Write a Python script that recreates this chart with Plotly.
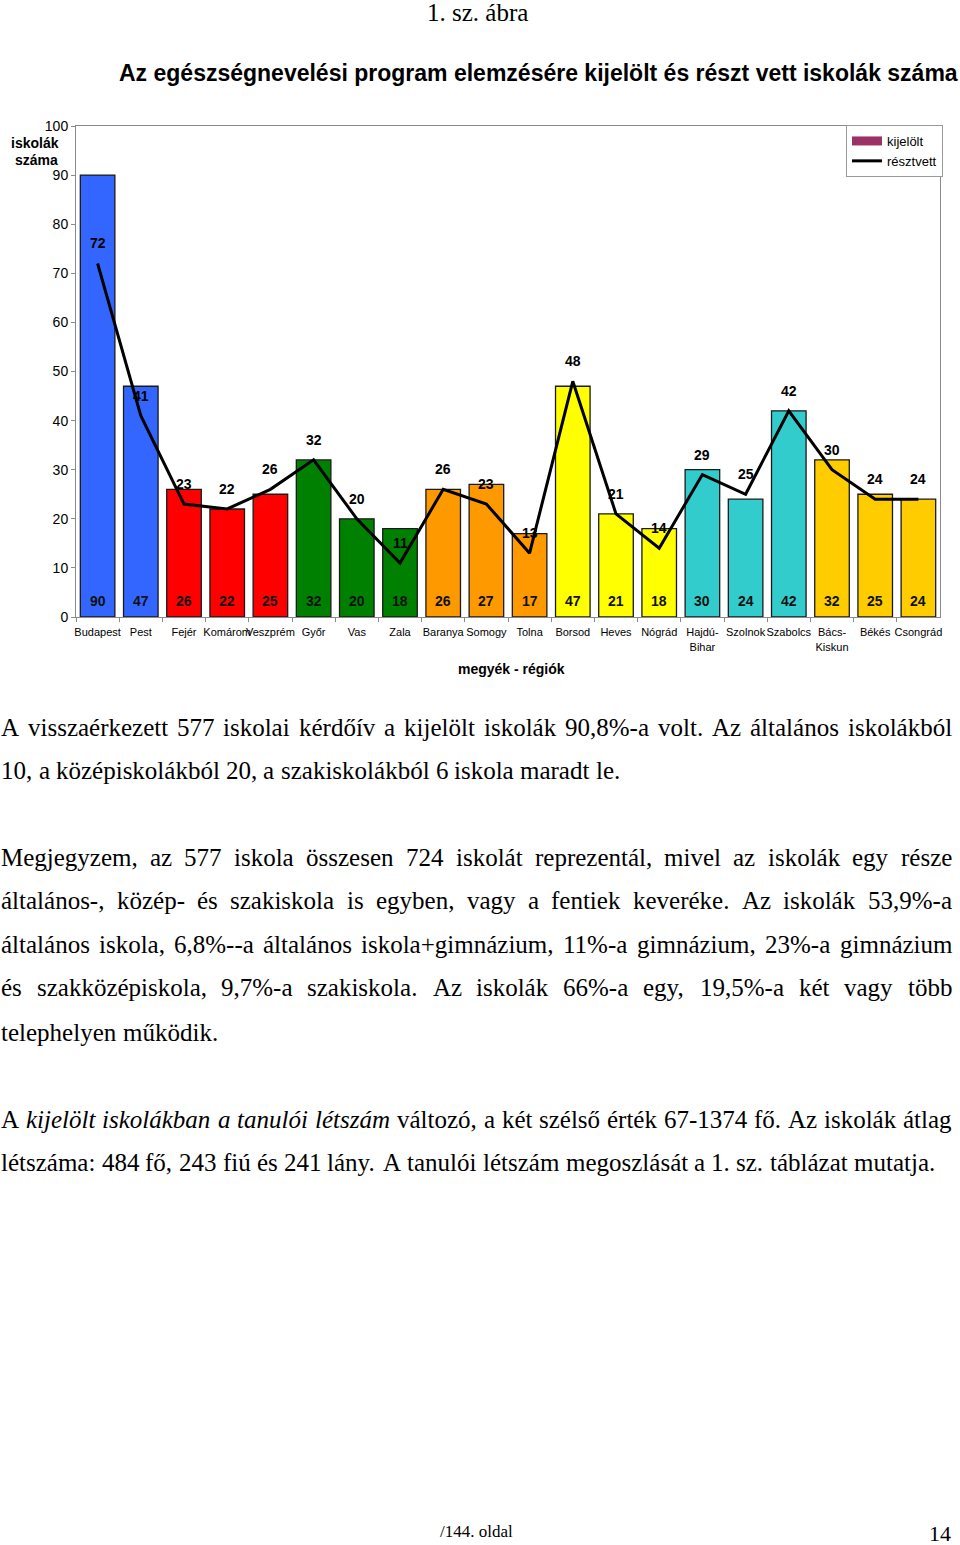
import plotly.graph_objects as go

# ---------------- data ----------------
categories = ["Budapest", "Pest", "Fejér", "Komárom", "Veszprém", "Győr", "Vas", "Zala",
              "Baranya", "Somogy", "Tolna", "Borsod", "Heves", "Nógrád", "Hajdú-<br>Bihar",
              "Szolnok", "Szabolcs", "Bács-<br>Kiskun", "Békés", "Csongrád"]
kijelolt = [90, 47, 26, 22, 25, 32, 20, 18, 26, 27, 17, 47, 21, 18, 30, 24, 42, 32, 25, 24]
resztvett = [72, 41, 23, 22, 26, 32, 20, 11, 26, 23, 13, 48, 21, 14, 29, 25, 42, 30, 24, 24]
y_tick_values = [0, 10, 20, 30, 40, 50, 60, 70, 80, 90, 100]

# ---------------- styles ----------------
bar_colors = (["#3366FF"] * 2 + ["#FF0000"] * 3 + ["#008000"] * 3 + ["#FF9900"] * 3 +
              ["#FFFF00"] * 3 + ["#33CCCC"] * 3 + ["#FFCC00"] * 3)

W, H = 960, 1545
PL, PR, PT, PB = 76, 940, 126, 617


def px(x):
    return x / W


def py(y):
    return 1 - y / H


SANS = "Liberation Sans, Arial, sans-serif"
SERIF = "Liberation Serif, Times New Roman, serif"

fig = go.Figure()
fig.add_trace(go.Bar(
    x=categories, y=kijelolt, name="kijelölt", showlegend=False,
    marker=dict(color=bar_colors, line=dict(color="#1a1a1a", width=1.3)),
    width=0.8,
))
# legend entry for the bars (wide swatch like the original)
fig.add_trace(go.Scatter(x=[None], y=[None], name="kijelölt", mode="lines",
                         line=dict(color="#993366", width=9)))
fig.add_trace(go.Scatter(x=categories, y=resztvett, name="résztvett", mode="lines",
                         line=dict(color="black", width=3)))


def txt(x, y, text, family, size, xanchor="center", color="black"):
    return dict(x=px(x), y=py(y), xref="paper", yref="paper", text=text, showarrow=False,
                xanchor=xanchor, yanchor="middle", borderpad=0, borderwidth=0,
                font=dict(family=family, size=size, color=color))


ann = []
# value labels
for c, v in zip(categories, resztvett):
    ann.append(dict(x=c, y=v, xref="x", yref="y", text=f"<b>{v}</b>", showarrow=False,
                    yshift=20, xanchor="center", yanchor="middle",
                    font=dict(family=SANS, size=14, color="black")))
for c, v in zip(categories, kijelolt):
    ann.append(dict(x=c, y=0, xref="x", yref="y", text=f"<b>{v}</b>", showarrow=False,
                    yshift=16, xanchor="center", yanchor="middle",
                    font=dict(family=SANS, size=14, color="#111111")))

# chart texts
ann.append(txt(35, 143, "<b>iskolák</b>", SANS, 14))
ann.append(txt(36, 160, "<b>száma</b>", SANS, 14))
ann.append(txt(511, 669, "<b>megyék - régiók</b>", SANS, 14))
ann.append(txt(538, 73, "<b>Az egészségnevelési program elemzésére kijelölt és részt vett iskolák száma</b>",
               SANS, 23))
ann.append(txt(477, 12, "1. sz. ábra", SERIF, 25))
ann.append(txt(476, 1531, "/144. oldal", SERIF, 17))
ann.append(txt(951, 1533, "14", SERIF, 22, xanchor="right"))

# ---------------- body text (justified using Times metrics) ----------------
TR = {' ': 250, '!': 333, '%': 833, '+': 564, ',': 250, '-': 333, '.': 250, '/': 278, ':': 278,
      'A': 722, 'B': 667, 'C': 667, 'D': 722, 'E': 611, 'F': 556, 'G': 722, 'H': 722, 'I': 333,
      'J': 389, 'K': 722, 'L': 611, 'M': 889, 'N': 722, 'O': 722, 'P': 556, 'Q': 722, 'R': 667,
      'S': 556, 'T': 611, 'U': 722, 'V': 722, 'W': 944, 'X': 722, 'Y': 722, 'Z': 611,
      'a': 444, 'b': 500, 'c': 444, 'd': 500, 'e': 444, 'f': 333, 'g': 500, 'h': 500, 'i': 278,
      'j': 278, 'k': 500, 'l': 278, 'm': 778, 'n': 500, 'o': 500, 'p': 500, 'q': 500, 'r': 333,
      's': 389, 't': 278, 'u': 500, 'v': 500, 'w': 722, 'x': 500, 'y': 500, 'z': 444,
      'á': 444, 'é': 444, 'í': 278, 'ó': 500, 'ö': 500, 'ő': 500, 'ú': 500, 'ü': 500, 'ű': 500}
TI = dict(TR)
TI.update({'a': 500, 'f': 278, 'k': 444, 'm': 722, 'r': 389, 'v': 444, 'w': 667, 'x': 444,
           'y': 444, 'z': 389, 'á': 500, 'A': 611})
for d in '0123456789':
    TR[d] = 500
    TI[d] = 500

BODY_SIZE = 25


def wwidth(word, italic):
    t = TI if italic else TR
    return sum(t.get(ch, 500) for ch in word) * BODY_SIZE / 1000.0


body_lines = [
    ("A visszaérkezett 577 iskolai kérdőív a kijelölt iskolák 90,8%-a volt. Az általános iskolákból", 727, True),
    ("10, a középiskolákból 20, a szakiskolákból 6 iskola maradt le.", 771, False),
    ("Megjegyzem, az 577 iskola összesen 724 iskolát reprezentál, mivel az iskolák egy része", 858, True),
    ("általános-, közép- és szakiskola is egyben, vagy a fentiek keveréke. Az iskolák 53,9%-a", 901, True),
    ("általános iskola, 6,8%--a általános iskola+gimnázium, 11%-a gimnázium, 23%-a gimnázium", 945, True),
    ("és szakközépiskola, 9,7%-a szakiskola. Az iskolák 66%-a egy, 19,5%-a két vagy több", 988, True),
    ("telephelyen működik.", 1032, False),
    ("A _kijelölt _iskolákban _a _tanulói _létszám változó, a két szélső érték 67-1374 fő. Az iskolák átlag", 1119, True),
    ("létszáma: 484 fő, 243 fiú és 241 lány. A tanulói létszám megoszlását a 1. sz. táblázat mutatja.", 1162, False),
]

LEFT, RIGHT = 1, 952
for text, ypix, justify in body_lines:
    words = text.split(" ")
    parsed = [(w[1:], True) if w.startswith("_") else (w, False) for w in words]
    widths = [wwidth(w, it) for w, it in parsed]
    if justify and len(parsed) > 1:
        gap = (RIGHT - LEFT - sum(widths)) / (len(parsed) - 1)
    else:
        gap = TR[' '] * BODY_SIZE / 1000.0
    x = LEFT
    for (w, it), wd in zip(parsed, widths):
        ann.append(txt(x, ypix, (f"<i>{w}</i>" if it else w), SERIF, BODY_SIZE, xanchor="left"))
        x += wd + gap

fig.update_layout(
    width=W, height=H,
    margin=dict(l=0, r=0, t=0, b=0),
    paper_bgcolor="white", plot_bgcolor="white",
    bargap=0.2,
    showlegend=True,
    legend=dict(x=px(943), y=py(125), xanchor="right", yanchor="top",
                bgcolor="white", bordercolor="#9a9a9a", borderwidth=1,
                font=dict(family=SANS, size=13, color="black"),
                tracegroupgap=0, itemwidth=30),
    xaxis=dict(domain=[px(PL), px(PR)], type="category", automargin=False,
               showline=True, linecolor="#8a8a8a", linewidth=1, mirror=True,
               ticks="outside", tickson="boundaries", ticklen=4, tickcolor="#8a8a8a",
               tickangle=0, ticklabelstandoff=5,
               tickfont=dict(family=SANS, size=11, color="black"), showgrid=False),
    yaxis=dict(domain=[py(PB), py(PT)], range=[0, 100], automargin=False,
               tickvals=y_tick_values,
               showline=True, linecolor="#8a8a8a", linewidth=1, mirror=True,
               ticks="outside", ticklen=4, tickcolor="#8a8a8a",
               tickfont=dict(family=SANS, size=14, color="black"),
               showgrid=False, zeroline=False),
    annotations=ann,
    font=dict(family=SANS),
)

fig.write_html("out.html", config={"displayModeBar": False},
               post_script="document.body.style.margin='0px';document.body.style.overflow='hidden';")
